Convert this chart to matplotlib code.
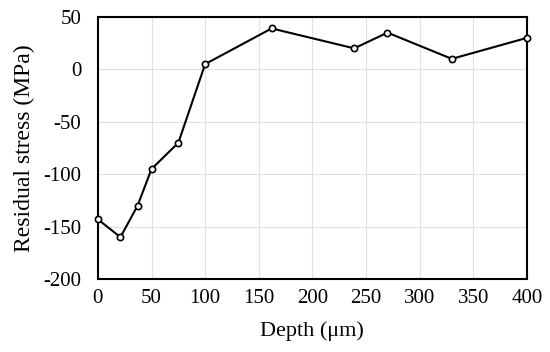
import matplotlib
matplotlib.use("Agg")
import matplotlib.pyplot as plt

depth = [0, 21, 37, 50, 75, 100, 162, 239, 270, 330, 400]
stress = [-143, -160, -130, -95, -70, 5, 39, 20, 35, 10, 30]
xticks = [0, 50, 100, 150, 200, 250, 300, 350, 400]
yticks = [-200, -150, -100, -50, 0, 50]

plt.rcParams['font.family'] = ['Liberation Serif', 'DejaVu Serif']
plt.rcParams['axes.unicode_minus'] = False

fig = plt.figure(figsize=(5.5, 3.52), dpi=100)
ax = fig.add_axes([0.178, 0.207, 0.78, 0.745])
ax.plot(depth, stress, color='black', lw=1.5, marker='o', ms=4.5,
        mfc='white', mec='black', mew=1.2, zorder=3, clip_on=False)
ax.set_xlim(0, 400)
ax.set_ylim(-200, 50)
ax.set_xticks(xticks)
ax.set_yticks(yticks)
ax.grid(True, color='#e0e0e0', lw=0.8)
ax.set_axisbelow(True)
ax.tick_params(length=0, labelsize=15)
ax.tick_params(axis='y', pad=12)
ax.tick_params(axis='x', pad=7)
for s in ax.spines.values():
    s.set_linewidth(1.5)
    s.set_color('black')
ax.set_xlabel('Depth (μm)', fontsize=16, labelpad=10)
ax.set_ylabel('Residual stress (MPa)', fontsize=17, labelpad=6)
fig.savefig('out.png', dpi=100)
